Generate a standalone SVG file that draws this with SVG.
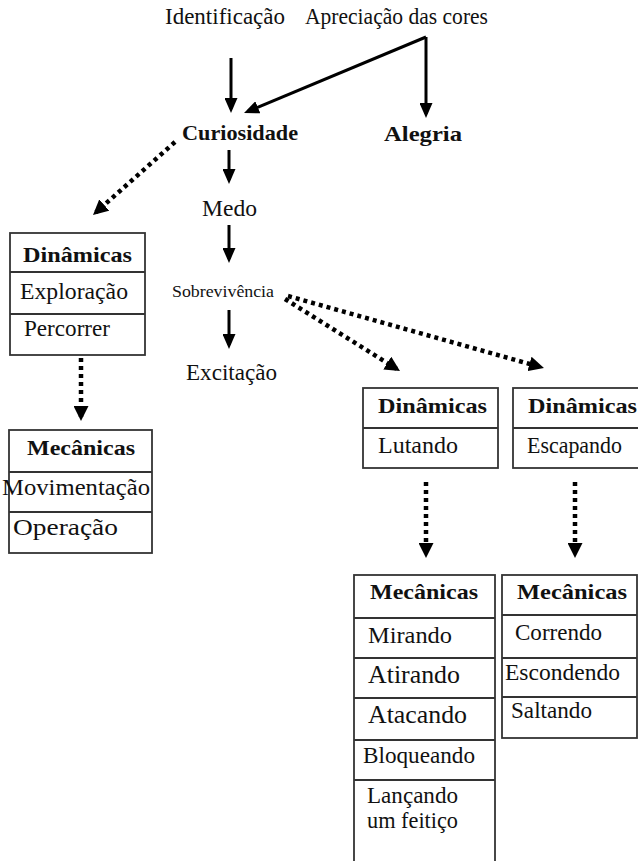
<svg xmlns="http://www.w3.org/2000/svg" width="638" height="861" viewBox="0 0 638 861">
<style>
text{font-family:"Liberation Serif","Times New Roman",serif;fill:#111;}
.t{font-size:23px;}
.b{font-size:22px;font-weight:bold;}
.s{font-size:16px;}
.box{fill:#fff;stroke:#333;stroke-width:1.8;}
.div{stroke:#333;stroke-width:1.8;}
.solid{stroke:#000;stroke-width:3;fill:none;}
.dot{stroke:#000;stroke-width:4.5;fill:none;stroke-dasharray:4 4;}
</style>
<defs>
<marker id="ah" markerUnits="userSpaceOnUse" markerWidth="15" markerHeight="13" refX="11" refY="6.5" orient="auto"><path d="M0,0 L15,6.5 L0,13 z" fill="#000"/></marker>
<marker id="dh" markerUnits="userSpaceOnUse" markerWidth="15" markerHeight="15" refX="11" refY="7.5" orient="auto"><path d="M0,0 L15,7.5 L0,15 z" fill="#000"/></marker>
</defs>
<rect width="638" height="861" fill="#fff"/>

<g id="connectors">
<line class="solid" x1="231" y1="58" x2="231" y2="109" marker-end="url(#ah)"/>
<line class="solid" x1="426" y1="37" x2="247.7" y2="111.5" marker-end="url(#ah)"/>
<line class="solid" x1="426" y1="37" x2="426" y2="114" marker-end="url(#ah)"/>
<line class="solid" x1="229" y1="150" x2="229" y2="180" marker-end="url(#ah)"/>
<line class="solid" x1="229" y1="225" x2="229" y2="259" marker-end="url(#ah)"/>
<line class="solid" x1="229" y1="310" x2="229" y2="345" marker-end="url(#ah)"/>
<line class="dot" x1="175" y1="142" x2="96" y2="212.3" marker-end="url(#dh)"/>
<line class="dot" x1="81" y1="358" x2="81" y2="417" marker-end="url(#dh)"/>
<line class="dot" x1="285" y1="299" x2="396.6" y2="368.9" marker-end="url(#dh)"/>
<line class="dot" x1="288" y1="296" x2="540.1" y2="366.9" marker-end="url(#dh)"/>
<line class="dot" x1="426" y1="482" x2="426" y2="554" marker-end="url(#dh)"/>
<line class="dot" x1="575" y1="482" x2="575" y2="554" marker-end="url(#dh)"/>
</g>

<g id="identificacao"><text class="t" x="165" y="24" textLength="120" lengthAdjust="spacingAndGlyphs">Identificação</text></g>
<g id="apreciacao"><text class="t" x="305" y="24" textLength="183" lengthAdjust="spacingAndGlyphs">Apreciação das cores</text></g>
<g id="curiosidade"><text class="b" x="182" y="140" textLength="116" lengthAdjust="spacingAndGlyphs">Curiosidade</text></g>
<g id="alegria"><text class="b" x="384" y="141" textLength="78" lengthAdjust="spacingAndGlyphs">Alegria</text></g>
<g id="medo"><text class="t" x="202" y="216" textLength="55" lengthAdjust="spacingAndGlyphs">Medo</text></g>
<g id="sobrevivencia"><text class="s" x="172" y="297" textLength="102" lengthAdjust="spacingAndGlyphs">Sobrevivência</text></g>
<g id="excitacao"><text class="t" x="186" y="380" textLength="91" lengthAdjust="spacingAndGlyphs">Excitação</text></g>

<g id="dinamicas-exploracao">
<rect class="box" x="10" y="233" width="135" height="122"/>
<line class="div" x1="10" y1="272" x2="145" y2="272"/>
<line class="div" x1="10" y1="314" x2="145" y2="314"/>
<text class="b" x="23" y="262" textLength="109" lengthAdjust="spacingAndGlyphs">Dinâmicas</text>
<text class="t" x="20" y="299" textLength="108" lengthAdjust="spacingAndGlyphs">Exploração</text>
<text class="t" x="24" y="336" textLength="86" lengthAdjust="spacingAndGlyphs">Percorrer</text>
</g>

<g id="mecanicas-exploracao">
<rect class="box" x="9" y="430" width="143" height="123"/>
<line class="div" x1="9" y1="472" x2="152" y2="472"/>
<line class="div" x1="9" y1="512" x2="152" y2="512"/>
<text class="b" x="27" y="455" textLength="108" lengthAdjust="spacingAndGlyphs">Mecânicas</text>
<text class="t" x="2" y="495" textLength="148" lengthAdjust="spacingAndGlyphs">Movimentação</text>
<text class="t" x="13" y="535" textLength="105" lengthAdjust="spacingAndGlyphs">Operação</text>
</g>

<g id="dinamicas-lutando">
<rect class="box" x="363" y="388" width="135" height="80"/>
<line class="div" x1="363" y1="428" x2="498" y2="428"/>
<text class="b" x="378" y="413" textLength="109" lengthAdjust="spacingAndGlyphs">Dinâmicas</text>
<text class="t" x="378" y="453" textLength="80" lengthAdjust="spacingAndGlyphs">Lutando</text>
</g>

<g id="dinamicas-escapando">
<rect class="box" x="513" y="388" width="140" height="80"/>
<line class="div" x1="513" y1="428" x2="653" y2="428"/>
<text class="b" x="528" y="413" textLength="109" lengthAdjust="spacingAndGlyphs">Dinâmicas</text>
<text class="t" x="527" y="453" textLength="95" lengthAdjust="spacingAndGlyphs">Escapando</text>
</g>

<g id="mecanicas-lutando">
<rect class="box" x="354" y="575" width="141" height="300"/>
<line class="div" x1="354" y1="618" x2="495" y2="618"/>
<line class="div" x1="354" y1="658" x2="495" y2="658"/>
<line class="div" x1="354" y1="698" x2="495" y2="698"/>
<line class="div" x1="354" y1="740" x2="495" y2="740"/>
<line class="div" x1="354" y1="780" x2="495" y2="780"/>
<text class="b" x="370" y="599" textLength="108" lengthAdjust="spacingAndGlyphs">Mecânicas</text>
<text class="t" x="368" y="643" textLength="84" lengthAdjust="spacingAndGlyphs" style="font-size:24px">Mirando</text>
<text class="t" x="368" y="683" textLength="92" lengthAdjust="spacingAndGlyphs" style="font-size:26px">Atirando</text>
<text class="t" x="368" y="723" textLength="99" lengthAdjust="spacingAndGlyphs" style="font-size:26px">Atacando</text>
<text class="t" x="363" y="763" textLength="112" lengthAdjust="spacingAndGlyphs">Bloqueando</text>
<text class="t" x="367" y="803" textLength="91" lengthAdjust="spacingAndGlyphs" style="font-size:24px">Lançando</text>
<text class="t" x="367" y="828" textLength="91" lengthAdjust="spacingAndGlyphs" style="font-size:24px">um feitiço</text>
</g>

<g id="mecanicas-escapando">
<rect class="box" x="502" y="575" width="135" height="163"/>
<line class="div" x1="502" y1="615" x2="637" y2="615"/>
<line class="div" x1="502" y1="658" x2="637" y2="658"/>
<line class="div" x1="502" y1="697" x2="637" y2="697"/>
<text class="b" x="517" y="599" textLength="110" lengthAdjust="spacingAndGlyphs">Mecânicas</text>
<text class="t" x="515" y="640" textLength="87" lengthAdjust="spacingAndGlyphs">Correndo</text>
<text class="t" x="505" y="680" textLength="115" lengthAdjust="spacingAndGlyphs">Escondendo</text>
<text class="t" x="511" y="718" textLength="81" lengthAdjust="spacingAndGlyphs">Saltando</text>
</g>
</svg>
